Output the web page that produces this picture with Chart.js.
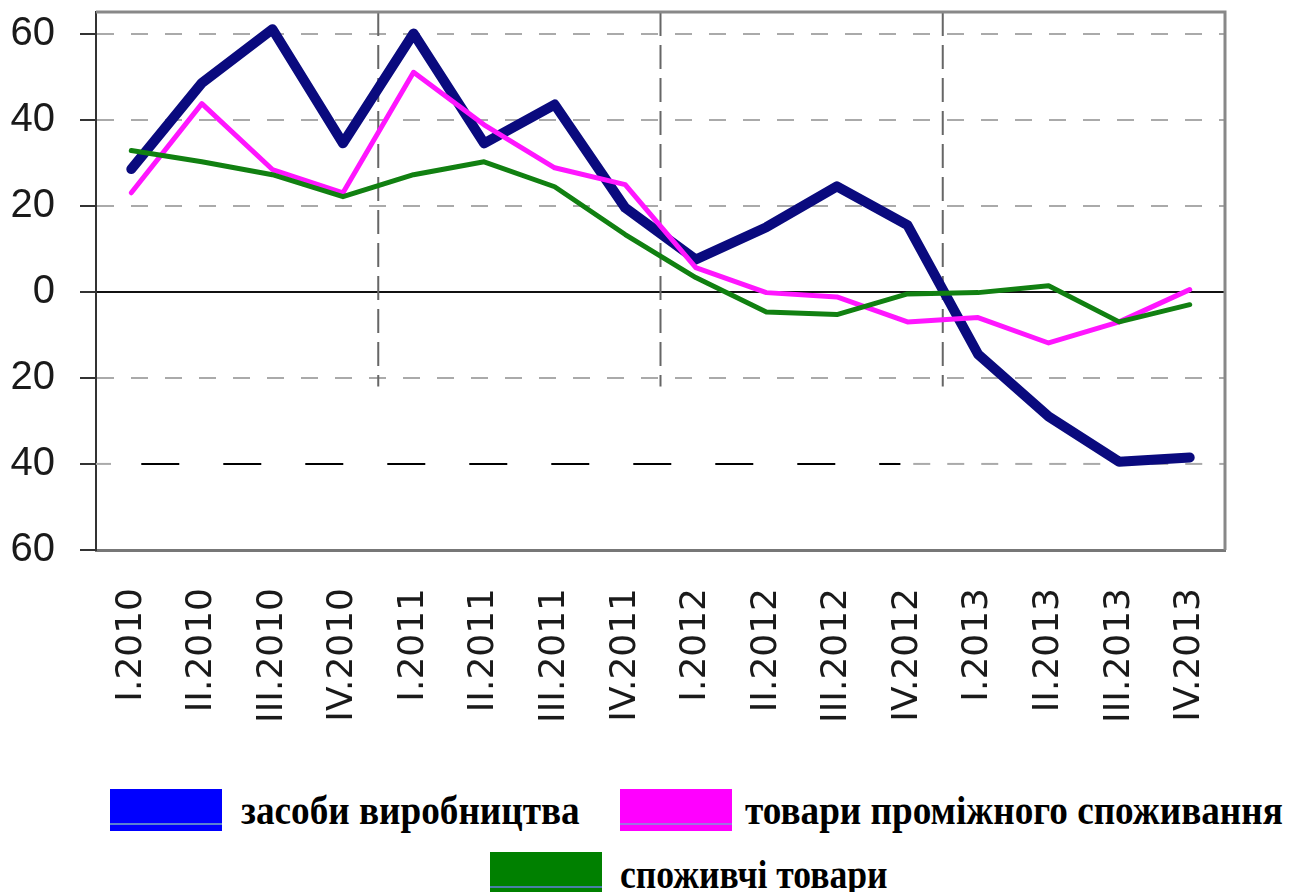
<!DOCTYPE html>
<html>
<head>
<meta charset="utf-8">
<script src="https://cdn.jsdelivr.net/npm/chart.js@4"></script>
<style>
  html, body { margin: 0; padding: 0; background: #fff; }
  #wrap { position: relative; width: 1294px; height: 892px; }
  #chartBox { position: absolute; left: 0; top: 0; width: 1294px; height: 740px; }
  .lg-box { position: absolute; width: 112px; height: 42px; }
  .lg-text { position: absolute; font-family: "Liberation Serif", "Times New Roman", serif; font-weight: bold; font-size: 40px; line-height: normal; color: #000; white-space: nowrap; transform-origin: left top; }
</style>
</head>
<body>
<div id="wrap">
  <div id="chartBox"><canvas id="quarterChart"></canvas></div>
  <div id="legend"></div>
</div>
<script>
// Quarters
const quarters = ['I.2010', 'II.2010', 'III.2010', 'IV.2010', 'I.2011', 'II.2011', 'III.2011', 'IV.2011',
                  'I.2012', 'II.2012', 'III.2012', 'IV.2012', 'I.2013', 'II.2013', 'III.2013', 'IV.2013'];

// Series values
const meansOfProduction = [28.5, 48.5, 61, 34.5, 60, 34.5, 43.5, 19.5, 7.5, 15, 24.5, 15.5, -14.5, -29, -39.5, -38.5];
const intermediateGoods = [23, 43.7, 28.4, 23, 51, 38.8, 28.8, 24.9, 5.6, -0.2, -1.2, -7, -6, -11.9, -7, 0.5];
const consumerGoods = [32.8, 30.2, 27.2, 22.1, 27.2, 30.2, 24.4, 13.3, 3.3, -4.7, -5.3, -0.5, -0.2, 1.4, -7, -3];

// Y axis ticks and their printed labels (no minus sign in the original)
const yTicks = [60, 40, 20, 0, -20, -40, -60];
const yTickLabels = ['60', '40', '20', '0', '20', '40', '60'];

const seriesNames = ['засоби виробництва', 'товари проміжного споживання', 'споживчі товари'];

// draws the frame, the odd -40 line and the yearly separators
const framePlugin = {
    id: 'frame',
    beforeDatasetsDraw(chart) {
        const { ctx, chartArea, scales } = chart;
        const x = scales.x, y = scales.y;
        ctx.save();

        // vertical separators between years
        ctx.strokeStyle = '#666';
        ctx.lineWidth = 2;
        ctx.setLineDash([24, 9]);
        [4, 8, 12].forEach(i => {
            const px = (x.getPixelForValue(i - 1) + x.getPixelForValue(i)) / 2;
            ctx.beginPath();
            ctx.moveTo(px, chartArea.top);
            ctx.lineTo(px, y.getPixelForValue(-22));
            ctx.stroke();
        });

        // -40 line: black long dashes on the left part, grey on the right
        const y40 = y.getPixelForValue(-40);
        ctx.strokeStyle = '#aaa';
        ctx.setLineDash([17, 17]);
        ctx.beginPath();
        ctx.moveTo(x.getPixelForValue(10.6), y40);
        ctx.lineTo(chartArea.right, y40);
        ctx.stroke();
        ctx.beginPath();
        ctx.moveTo(chartArea.left, y40);
        ctx.lineTo(chartArea.left + 15, y40);
        ctx.stroke();
        ctx.strokeStyle = '#000';
        ctx.lineWidth = 2;
        ctx.setLineDash([38, 44]);
        ctx.beginPath();
        ctx.moveTo(x.getPixelForValue(0) + 10, y40);
        ctx.lineTo(x.getPixelForValue(10.9), y40);
        ctx.stroke();

        // top and right frame
        ctx.setLineDash([]);
        ctx.strokeStyle = '#888';
        ctx.lineWidth = 3;
        ctx.beginPath();
        ctx.moveTo(chartArea.left, chartArea.top);
        ctx.lineTo(chartArea.right, chartArea.top);
        ctx.lineTo(chartArea.right, chartArea.bottom);
        ctx.stroke();
        ctx.restore();
    }
};

const quarterChart = new Chart(document.getElementById('quarterChart'), {
    type: 'line',
    data: {
        labels: quarters,
        datasets: [{
            label: seriesNames[0],
            data: meansOfProduction,
            borderColor: '#0a0a7e',
            borderWidth: 10,
            order: 3
        }, {
            label: seriesNames[1],
            data: intermediateGoods,
            borderColor: '#ff16ff',
            borderWidth: 5,
            order: 2
        }, {
            label: seriesNames[2],
            data: consumerGoods,
            borderColor: '#118011',
            borderWidth: 5,
            order: 1
        }]
    },
    options: {
        responsive: true,
        maintainAspectRatio: false,
        animation: false,
        elements: {
            point: { radius: 0 },
            line: { tension: 0, borderJoinStyle: 'round', borderCapStyle: 'round' }
        },
        layout: { padding: { top: 12, right: 69, left: 0, bottom: 0 } },
        plugins: {
            legend: { display: false },
            tooltip: { enabled: false }
        },
        scales: {
            x: {
                offset: true,
                grid: { display: false },
                border: { display: true, color: '#777', width: 3 },
                ticks: {
                    autoSkip: false,
                    minRotation: 90,
                    maxRotation: 90,
                    padding: 30,
                    color: '#1a1a1a',
                    font: { family: '"DejaVu Sans", sans-serif', size: 36 }
                },
                afterFit: scale => {
                    scale.height = 190;
                    scale.paddingLeft = 0;
                    scale.paddingRight = 0;
                }
            },
            y: {
                min: -60,
                max: 65,
                afterBuildTicks: scale => { scale.ticks = yTicks.map(v => ({ value: v })); },
                grid: {
                    color: c => {
                        if (!c.tick) return '#aaa';
                        if (c.tick.value === 0) return '#111';
                        if (c.tick.value === -40 || c.tick.value === -60) return 'rgba(0,0,0,0)';
                        return '#aaa';
                    },
                    lineWidth: 2,
                    tickLength: 16,
                    tickColor: '#333',
                    tickWidth: 2
                },
                border: {
                    display: true,
                    color: '#333',
                    width: 2,
                    dash: c => (c.tick && c.tick.value !== 0) ? [17, 17] : []
                },
                ticks: {
                    padding: 25,
                    color: '#1a1a1a',
                    font: { family: '"Liberation Sans", Arial, sans-serif', size: 40 },
                    callback: (value, index) => yTickLabels[yTicks.indexOf(value)]
                },
                afterFit: scale => {
                    scale.width = 96;
                    scale.paddingTop = 0;
                    scale.paddingBottom = 0;
                }
            }
        }
    },
    plugins: [framePlugin]
});

// Legend below the chart
const legendItems = [
    { name: seriesNames[0], color: '#0000ff', line: '#5a82d2', box: [110, 789], text: [241, 787], squeeze: 0.93 },
    { name: seriesNames[1], color: '#ff00ff', line: '#a070e0', box: [620, 789], text: [745, 787], squeeze: 0.93 },
    { name: seriesNames[2], color: '#008000', line: '#4a7fa8', box: [490, 852], text: [620, 851], squeeze: 0.89 }
];
const legendEl = document.getElementById('legend');
legendItems.forEach(item => {
    const box = document.createElement('div');
    box.className = 'lg-box';
    box.style.left = item.box[0] + 'px';
    box.style.top = item.box[1] + 'px';
    box.style.background = `linear-gradient(to bottom, ${item.color} 0, ${item.color} 34px, ${item.line} 34px, ${item.line} 36px, ${item.color} 36px)`;
    legendEl.appendChild(box);
    const txt = document.createElement('div');
    txt.className = 'lg-text';
    txt.style.left = item.text[0] + 'px';
    txt.style.top = item.text[1] + 'px';
    txt.style.transform = `scaleX(${item.squeeze})`;
    txt.textContent = item.name;
    legendEl.appendChild(txt);
});
</script>
</body>
</html>
